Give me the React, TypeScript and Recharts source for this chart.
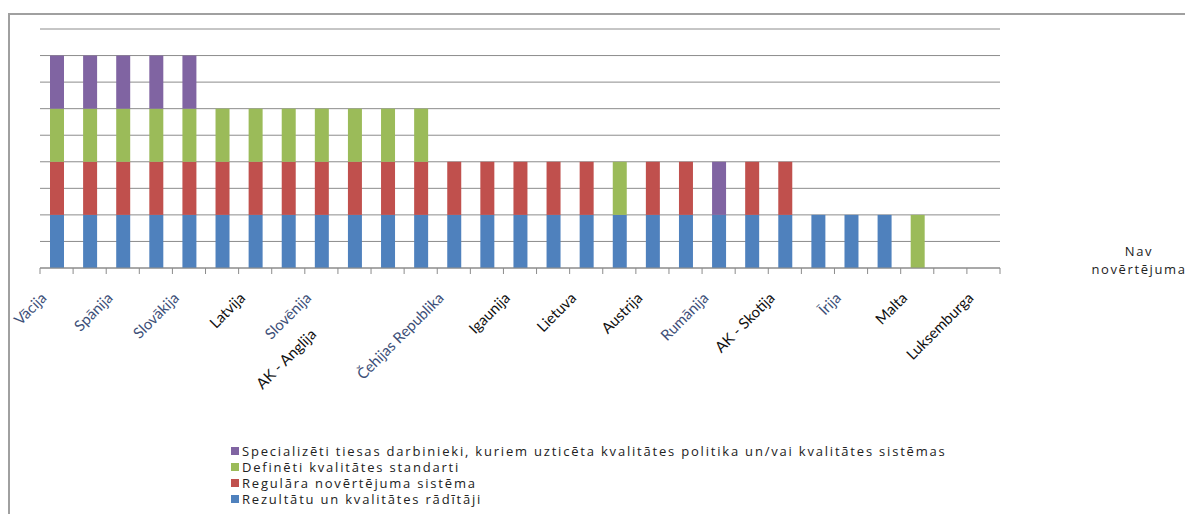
import { BarChart, Bar, XAxis, YAxis, CartesianGrid, Text } from "recharts";

// valstis (pāra pozīcijās nosaukumi Excel oriģinālā nav redzami)
const countries = [
  "Vācija", "Nīderlande", "Spānija", "Portugāle", "Slovākija", "Itālija",
  "Latvija", "Somija", "Slovēnija", "Dānija", "AK - Anglija", "Francija",
  "Čehijas Republika", "Polija", "Igaunija", "Zviedrija", "Lietuva", "Beļģija",
  "Austrija", "Ungārija", "Rumānija", "Bulgārija", "AK - Skotija", "Grieķija",
  "Īrija", "Kipra", "Malta", "AK - Ziemeļīrija", "Luksemburga",
];

const rezultati = [1, 1, 1, 1, 1, 1, 1, 1, 1, 1, 1, 1, 1, 1, 1, 1, 1, 1, 1, 1, 1, 1, 1, 1, 1, 1, 0, 0, 0];
const regulara = [1, 1, 1, 1, 1, 1, 1, 1, 1, 1, 1, 1, 1, 1, 1, 1, 1, 0, 1, 1, 0, 1, 1, 0, 0, 0, 0, 0, 0];
const defineti = [1, 1, 1, 1, 1, 1, 1, 1, 1, 1, 1, 1, 0, 0, 0, 0, 0, 1, 0, 0, 0, 0, 0, 0, 0, 0, 1, 0, 0];
const specializeti = [1, 1, 1, 1, 1, 0, 0, 0, 0, 0, 0, 0, 0, 0, 0, 0, 0, 0, 0, 0, 1, 0, 0, 0, 0, 0, 0, 0, 0];

const yTicks = [0, 0.5, 1, 1.5, 2, 2.5, 3, 3.5, 4, 4.5];

// nosaukumi, kas oriģinālā attēloti ar krāsainu apmali
const highlighted = ["Vācija", "Spānija", "Slovākija", "Slovēnija", "Čehijas Republika", "Rumānija", "Īrija"];

const seriesNames = {
  spec: "Specializēti tiesas darbinieki, kuriem uzticēta kvalitātes politika un/vai kvalitātes sistēmas",
  def: "Definēti kvalitātes standarti",
  reg: "Regulāra novērtējuma sistēma",
  rez: "Rezultātu un kvalitātes rādītāji",
};

const COLORS = { rez: "#4F81BD", reg: "#C0504D", def: "#9BBB59", spec: "#8064A2" };

const data = countries.map((name, i) => ({
  name,
  rez: rezultati[i],
  reg: regulara[i],
  def: defineti[i],
  spec: specializeti[i],
}));

const PLOT_W = 960;
const GRID = "#8c8c8c";
const LABEL_FONT = "Lato, 'Open Sans', sans-serif";

function CountryTick(props: any) {
  const { x, y, payload } = props;
  const idx = countries.indexOf(payload.value);
  const half = PLOT_W / countries.length / 2;
  const label = payload.value as string;
  const fill = highlighted.includes(label) ? "#3d4f78" : "#111";

  let text = null;
  if (label === "AK - Anglija") {
    // Excel nobīdījis un apgriezis šo nosaukumu
    text = (
      <g clipPath="url(#akclip)">
        <Text x={x - 125} y={y + 122} angle={-45} textAnchor="start" fontSize={15} fontFamily={LABEL_FONT} fill={fill}>
          {label}
        </Text>
      </g>
    );
  } else if (idx % 2 === 0) {
    text = (
      <Text x={x - 9} y={y + 31} angle={-45} textAnchor="end" fontSize={15} fontFamily={LABEL_FONT} fill={fill}>
        {label}
      </Text>
    );
  }

  return (
    <g>
      <line x1={x - half} x2={x - half} y1={y} y2={y + 6} stroke={GRID} />
      {idx === countries.length - 1 && <line x1={x + half} x2={x + half} y1={y} y2={y + 6} stroke={GRID} />}
      {text}
    </g>
  );
}

const legendOrder: (keyof typeof COLORS)[] = ["spec", "def", "reg", "rez"];
const textFont = "'Open Sans', sans-serif";

export default function App() {
  return (
    <div style={{ position: "relative", width: 1185, height: 506, background: "#fff" }}>
      <div
        style={{
          position: "absolute",
          left: 0,
          top: 5,
          width: 1185,
          height: 501,
          borderTop: "2px solid #a0a0a0",
          borderLeft: "2px solid #a0a0a0",
          boxSizing: "border-box",
        }}
      />
      <BarChart
        width={1185}
        height={506}
        data={data}
        margin={{ top: 21, right: 193, bottom: 0, left: 32 }}
        barSize={14}
        style={{ position: "absolute", left: 0, top: 0 }}
      >
        <defs>
          <clipPath id="akclip">
            <rect x={0} y={0} width={315} height={506} />
          </clipPath>
        </defs>
        <CartesianGrid vertical={false} stroke={GRID} />
        <XAxis
          dataKey="name"
          interval={0}
          height={246}
          tickSize={0}
          tickMargin={0}
          tickLine={false}
          axisLine={{ stroke: GRID }}
          tick={<CountryTick />}
        />
        <YAxis hide domain={[0, 4.5]} ticks={yTicks} />
        <Bar dataKey="rez" stackId="a" fill={COLORS.rez} isAnimationActive={false} />
        <Bar dataKey="reg" stackId="a" fill={COLORS.reg} isAnimationActive={false} />
        <Bar dataKey="def" stackId="a" fill={COLORS.def} isAnimationActive={false} />
        <Bar dataKey="spec" stackId="a" fill={COLORS.spec} isAnimationActive={false} />
      </BarChart>

      <div
        style={{
          position: "absolute",
          left: 1131 - 80,
          top: 234,
          width: 160,
          textAlign: "center",
          fontFamily: textFont,
          fontSize: 13,
          lineHeight: "18px",
          letterSpacing: 1.6,
          color: "#222",
        }}
      >
        Nav
        <br />
        novērtējuma
      </div>

      <div style={{ position: "absolute", left: 223, top: 435, fontFamily: textFont, fontSize: 13, color: "#222" }}>
        {legendOrder.map((k) => (
          <div key={k} style={{ display: "flex", alignItems: "center", height: 16, letterSpacing: 1.8 }}>
            <span style={{ width: 8, height: 8, background: COLORS[k], marginRight: 3, display: "inline-block" }} />
            <span style={{ whiteSpace: "nowrap" }}>{seriesNames[k]}</span>
          </div>
        ))}
      </div>
    </div>
  );
}
